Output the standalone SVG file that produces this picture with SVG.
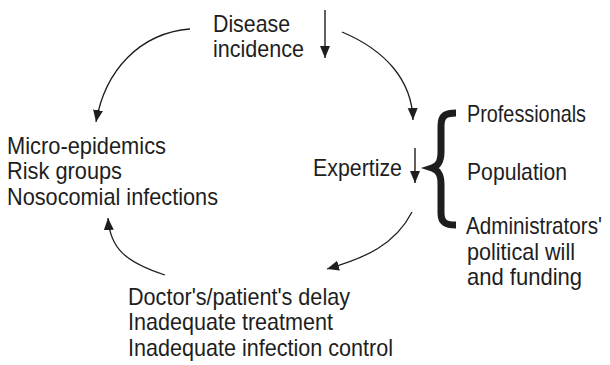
<svg xmlns="http://www.w3.org/2000/svg" width="610" height="365" viewBox="0 0 610 365">
  <style>
    .lbl { font-family: "Liberation Sans", Arial, Helvetica, sans-serif; font-size: 24px; fill: #1e1e1e; }
    .conn { fill: none; stroke: #1e1e1e; stroke-width: 1.3; }
    .drop { fill: none; stroke: #1e1e1e; stroke-width: 1.4; }
  </style>
  <defs>
    <marker id="head" markerUnits="userSpaceOnUse" markerWidth="14" markerHeight="12" refX="12" refY="5" orient="auto">
      <path d="M0,0 L12,5 L0,10 Z" fill="#1e1e1e"/>
    </marker>
  </defs>
  <rect width="610" height="365" fill="#ffffff"/>

  <g id="disease-incidence">
    <text class="lbl" x="213" y="32" textLength="77" lengthAdjust="spacingAndGlyphs">Disease</text>
    <text class="lbl" x="213" y="57" textLength="91" lengthAdjust="spacingAndGlyphs">incidence</text>
    <path class="drop" d="M325,10 L325,58" marker-end="url(#head)"/>
  </g>

  <g id="outbreaks">
    <text class="lbl" x="7" y="154" textLength="159" lengthAdjust="spacingAndGlyphs">Micro-epidemics</text>
    <text class="lbl" x="7" y="179" textLength="115" lengthAdjust="spacingAndGlyphs">Risk groups</text>
    <text class="lbl" x="7" y="205" textLength="211" lengthAdjust="spacingAndGlyphs">Nosocomial infections</text>
  </g>

  <g id="expertize">
    <text class="lbl" x="313" y="176" textLength="89" lengthAdjust="spacingAndGlyphs">Expertize</text>
    <path class="drop" d="M415,148 L415,183" marker-end="url(#head)"/>
  </g>

  <g id="stakeholders">
    <path d="M456,113 C446,113 441,115 441,126 L441,152 C441,162 438,166 432,168 C438,170 441,174 441,184 L441,213 C441,223 446,225 456,225" fill="none" stroke="#1e1e1e" stroke-width="7"/>
    <text class="lbl" x="467" y="122" textLength="119" lengthAdjust="spacingAndGlyphs">Professionals</text>
    <text class="lbl" x="467" y="180" textLength="100" lengthAdjust="spacingAndGlyphs">Population</text>
    <!-- longest line: slightly smaller face, stretched back to the common cap height -->
    <g transform="translate(466,234) scale(1,1.116)">
      <text class="lbl" x="0" y="0" style="font-size:21.5px" textLength="136" lengthAdjust="spacingAndGlyphs">Administrators'</text>
    </g>
    <text class="lbl" x="467" y="260" textLength="108" lengthAdjust="spacingAndGlyphs">political will</text>
    <text class="lbl" x="467" y="285" textLength="115" lengthAdjust="spacingAndGlyphs">and funding</text>
  </g>

  <g id="delays">
    <text class="lbl" x="128" y="305" textLength="222" lengthAdjust="spacingAndGlyphs">Doctor's/patient's delay</text>
    <text class="lbl" x="128" y="330" textLength="205" lengthAdjust="spacingAndGlyphs">Inadequate treatment</text>
    <text class="lbl" x="128" y="356" textLength="265" lengthAdjust="spacingAndGlyphs">Inadequate infection control</text>
  </g>

  <g id="connectors">
    <path class="conn" d="M190,29 C140,33 105,70 96,122" marker-end="url(#head)"/>
    <path class="conn" d="M342,32 C385,50 412,80 413,120" marker-end="url(#head)"/>
    <path class="conn" d="M412,212 C395,245 365,258 327,269" marker-end="url(#head)"/>
    <path class="conn" d="M165,275 C125,262 110,248 108,218" marker-end="url(#head)"/>
  </g>
</svg>
